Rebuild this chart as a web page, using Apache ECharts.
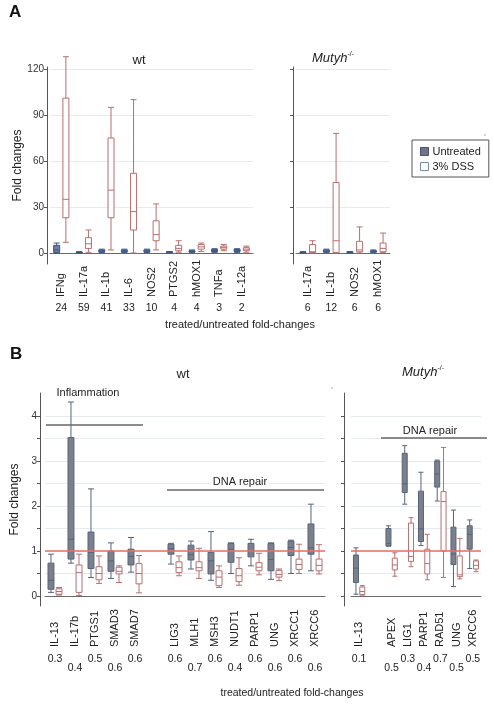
<!DOCTYPE html>
<html><head><meta charset="utf-8">
<script src="https://cdn.jsdelivr.net/npm/echarts@6/dist/echarts.min.js"></script>
<style>html,body{margin:0;padding:0;background:#fff}#c{width:494px;height:704px}</style>
</head><body><div id="c"></div>
<script>
// ---------- Panel A data ----------
const aWtCategories = ['IFNg','IL-17a','IL-1b','IL-6','NOS2','PTGS2','hMOX1','TNFa','IL-12a'];
const aWtRatios = ['24','59','41','33','10','4','4','3','2'];
const aWtUntreated = [[0,0.3,2,5,6.5],[0,0.1,0.3,0.6,0.9],[0.3,0.8,1.3,2,2.5],[0.3,0.8,1.3,2,2.5],[0.3,0.8,1.3,2,2.5],[0,0.2,0.4,0.8,1],[0.2,0.6,1,1.5,2],[0.4,1,1.5,2.3,2.8],[0.4,1,1.5,2.3,2.8]];
const aWtDSS = [[7,23,35,101,128],[0.5,3,6,10,15],[2,23,41,75,95],[0,15,27,52,100],[2,8,12,21,32],[0.5,1.5,3,5,8],[1,2.5,4,5.5,6.5],[1.5,2.5,3.5,4.5,5.5],[0.5,1.5,2.5,3.5,4.5]];
const aMuCategories = ['IL-17a','IL-1b','NOS2','hMOX1'];
const aMuRatios = ['6','12','6','6'];
const aMuUntreated = [[0,0.1,0.3,0.6,0.9],[0.3,0.8,1.3,2,2.5],[0,0.2,0.5,0.8,1],[0.2,0.6,1,1.5,2]];
const aMuDSS = [[0,0.2,0.8,5.5,8],[0,0.3,8,46,78],[0,0.8,2,7.6,17],[0.2,0.8,3,6.5,13]];
const aYTicks = [0,30,60,90,120];

// ---------- Panel B data ----------
const bWtCategories = ['IL-13','IL-17b','PTGS1','SMAD3','SMAD7','','LIG3','MLH1','MSH3','NUDT1','PARP1','UNG','XRCC1','XRCC6'];
const bWtRatios = ['0.3','0.4','0.5','0.6','0.6','','0.6','0.7','0.6','0.4','0.6','0.6','0.6','0.6'];
const bWtUntreated = [[0.08,0.15,0.35,0.73,0.93],[0.73,0.82,1.26,3.52,4.31],[0.41,0.61,0.97,1.42,2.38],[0.39,0.55,0.78,1.0,1.18],[0.53,0.69,0.88,1.04,1.3],null,
  [0.71,0.93,1.05,1.15,1.17],[0.6,0.8,0.92,1.13,1.22],[0.35,0.49,0.78,0.97,1.43],[0.5,0.75,1.04,1.17,1.18],[0.67,0.87,1.0,1.17,1.26],[0.37,0.56,0.81,1.17,1.18],[0.5,0.9,1.08,1.22,1.24],[0.56,0.93,1.07,1.6,2.04]];
const bWtDSS = [[0.02,0.04,0.1,0.16,0.19],[0.01,0.08,0.52,0.69,0.93],[0.28,0.36,0.5,0.65,0.89],[0.3,0.49,0.55,0.64,0.67],[0.07,0.27,0.5,0.72,0.9],null,
  [0.45,0.52,0.63,0.76,0.89],[0.39,0.56,0.63,0.76,1.06],[0.19,0.23,0.42,0.56,0.67],[0.24,0.32,0.45,0.61,0.85],[0.47,0.56,0.64,0.74,0.95],[0.34,0.42,0.48,0.57,0.6],[0.5,0.59,0.7,0.82,1.15],[0.49,0.56,0.68,0.82,1.14]];
const bMuCategories = ['IL-13','','APEX','LIG1','PARP1','RAD51','UNG','XRCC6'];
const bMuRatios = ['0.1','','0.5','0.3','0.4','0.7','0.5','0.5'];
const bMuUntreated = [[0.04,0.3,0.62,0.91,1.07],null,[1.11,1.11,1.17,1.5,1.56],[2.04,2.3,2.49,3.17,3.34],[1.12,1.21,1.49,2.33,2.75],[2.11,2.42,2.71,3.0,3.02],[0.21,0.7,0.93,1.53,1.91],[0.61,1.04,1.37,1.56,1.69]];
const bMuDSS = [[0.02,0.03,0.1,0.2,0.23],null,[0.44,0.58,0.69,0.84,0.96],[0.65,0.77,0.88,1.62,1.74],[0.36,0.49,0.72,1.04,1.37],[0.41,1.0,2.1,2.32,3.3],[0.38,0.43,0.47,0.89,1.28],[0.54,0.6,0.68,0.78,0.8]];
const bYTicks = [0,0.5,1,1.5,2,2.5,3,3.5,4];
const bYLabels = [0,1,2,3,4];
const bReference = 1;

// ---------- styling ----------
const FONT = "'Liberation Sans', Arial, sans-serif";
const NARROW = "'Liberation Sans Narrow', 'Liberation Sans', Arial, sans-serif";
const untreatedA = {color:'#6d7d9a', borderColor:'#3d5785', borderWidth:1};
const untreatedB = {color:'#7b8089', borderColor:'#56637e', borderWidth:1};
const dssStyle = {color:'#ffffff', borderColor:'#b86e6e', borderWidth:1};
const gridLineColor = '#e6ebf2';

const grids = [
  {left:50, right:241, top:67, bottom:440},
  {left:296, right:104, top:67, bottom:440},
  {left:45, right:169, top:393, bottom:98},
  {left:351, right:13, top:393, bottom:98}
];

function catAxis(gi, cats, margin) {
  return {type:'category', gridIndex:gi, data:cats, position:'bottom', boundaryGap:true,
    axisLine:{show:true, lineStyle:{color:'#6a6a6a', width:1}}, axisTick:{show:false}, splitLine:{show:false},
    axisLabel:{interval:0, rotate:90, align:'left', verticalAlign:'middle', margin:margin,
      fontFamily:NARROW, fontSize:11, color:'#222', padding:[0,0,6,0]}};
}
function ratioAxis(gi, ratios, margin, lower) {
  return {type:'category', gridIndex:gi, data:ratios, position:'bottom',
    axisLine:{show:false}, axisTick:{show:false}, splitLine:{show:false},
    axisLabel:{interval:0, margin:margin, fontFamily:FONT, fontSize:10.5, color:'#222',
      formatter:(v, i) => v === '' ? '' : (lower && lower(i) ? '{r2|' + v + '}' : '{r1|' + v + '}'),
      rich:{r1:{fontFamily:FONT, fontSize:10.5, color:'#222', padding:[0,0,0,0]},
            r2:{fontFamily:FONT, fontSize:10.5, color:'#222', padding:[9,0,0,0]}}}};
}
function valAxis(gi, min, max, ticks, labels, offset, name, nameGap) {
  return {type:'value', gridIndex:gi, min:min, max:max, offset:offset,
    name:name || '', nameLocation:'middle', nameGap:nameGap || 0,
    nameTextStyle:{fontFamily:FONT, fontSize:12, color:'#222'},
    axisLine:{show:true, lineStyle:{color:'#555', width:1}},
    axisTick:{show:true, length:3, customValues:ticks, lineStyle:{color:'#555'}},
    axisLabel:{show:!!labels, customValues:labels || [], fontFamily:FONT, fontSize:10, color:'#333', margin:3},
    splitLine:{show:true, lineStyle:{color:gridLineColor, width:1}}};
}
function toBox(arr) { return arr.map(d => d ? d : ['-','-','-','-','-']); }
function boxSeries(name, data, xi, yi, style, mark) {
  const s = {type:'boxplot', name:name, xAxisIndex:xi, yAxisIndex:yi, data:toBox(data),
    boxWidth:[5,6], itemStyle:style, silent:true, animation:false, emphasis:{disabled:true}};
  if (mark !== undefined) {
    s.markLine = {silent:true, symbol:'none', label:{show:false}, animation:false,
      lineStyle:{color:'#e8706a', width:1.5, type:'solid'}, data:[{yAxis:mark}]};
  }
  return s;
}
function note(x, y, text) {
  return {type:'text', x:x, y:y, z:100, style:{text:text, fontFamily:FONT, fontSize:11, fill:'#222',
    align:'center', verticalAlign:'middle', backgroundColor:'#fff', padding:[1,2,1,2]}};
}

const chart = echarts.init(document.getElementById('c'), null, {renderer:'canvas'});
const option = {
  backgroundColor:'#fff',
  animation:false,
  grid:grids,
  xAxis:[
    catAxis(0, aWtCategories, 33), ratioAxis(0, aWtRatios, 39),
    catAxis(1, aMuCategories, 33), ratioAxis(1, aMuRatios, 39),
    catAxis(2, bWtCategories, 41), ratioAxis(2, bWtRatios, 48, i => i % 2 === 1),
    catAxis(3, bMuCategories, 41), ratioAxis(3, bMuRatios, 48, i => i > 1 && i % 2 === 0)
  ],
  yAxis:[
    valAxis(0, -7.17, 121.3, aYTicks, aYTicks, 3, 'Fold changes', 19),
    valAxis(1, -7.17, 121.3, aYTicks, null, 3),
    valAxis(2, -0.222, 4.51, bYTicks, bYLabels, 5, 'Fold changes', 14),
    valAxis(3, -0.222, 4.51, bYTicks, null, 7)
  ],
  legend:{left:412, top:140, orient:'vertical', icon:'rect', itemWidth:8, itemHeight:8, itemGap:4,
    borderColor:'#555', borderWidth:1, padding:[6,8,5,8], selectedMode:false,
    textStyle:{fontFamily:FONT, fontSize:11, color:'#222', padding:[0,0,0,-1]},
    data:[{name:'Untreated', itemStyle:{color:'#6f7584', borderColor:'#4a5268', borderWidth:1}},
          {name:'3% DSS', itemStyle:{color:'#fff', borderColor:'#7b8bab', borderWidth:1}}]},
  series:[
    boxSeries('Untreated', aWtUntreated, 0, 0, untreatedA),
    boxSeries('3% DSS', aWtDSS, 0, 0, dssStyle),
    boxSeries('Untreated', aMuUntreated, 2, 1, untreatedA),
    boxSeries('3% DSS', aMuDSS, 2, 1, dssStyle),
    boxSeries('Untreated', bWtUntreated, 4, 2, untreatedB, bReference),
    boxSeries('3% DSS', bWtDSS, 4, 2, dssStyle),
    boxSeries('Untreated', bMuUntreated, 6, 3, untreatedB, bReference),
    boxSeries('3% DSS', bMuDSS, 6, 3, dssStyle)
  ],
  graphic:[
    {type:'text', left:9, top:4, style:{text:'A', fontFamily:FONT, fontSize:17, fontWeight:'bold', fill:'#111'}},
    {type:'text', left:10, top:346, style:{text:'B', fontFamily:FONT, fontSize:17, fontWeight:'bold', fill:'#111'}},
    {type:'text', x:139, y:60, style:{text:'wt', fontFamily:FONT, fontSize:13, fill:'#222', align:'center', verticalAlign:'middle'}},
    {type:'text', x:333, y:58, style:{text:'{i|Mutyh}{s|-/-}', align:'center', verticalAlign:'middle',
      rich:{i:{fontFamily:FONT, fontSize:13, fontStyle:'italic', fill:'#222'}, s:{fontFamily:FONT, fontSize:7, fill:'#222', padding:[0,0,7,0]}}}},
    {type:'text', x:183, y:374, style:{text:'wt', fontFamily:FONT, fontSize:13, fill:'#222', align:'center', verticalAlign:'middle'}},
    {type:'text', x:423, y:372, style:{text:'{i|Mutyh}{s|-/-}', align:'center', verticalAlign:'middle',
      rich:{i:{fontFamily:FONT, fontSize:13, fontStyle:'italic', fill:'#222'}, s:{fontFamily:FONT, fontSize:7, fill:'#222', padding:[0,0,7,0]}}}},
    {type:'text', x:240, y:325, style:{text:'treated/untreated fold-changes', fontFamily:FONT, fontSize:11, fill:'#222', align:'center', verticalAlign:'middle'}},
    {type:'text', x:292, y:693, style:{text:'treated/untreated fold-changes', fontFamily:FONT, fontSize:10.5, fill:'#222', align:'center', verticalAlign:'middle'}},
    note(88, 393, 'Inflammation'),
    {type:'line', z:100, shape:{x1:46, y1:425, x2:143, y2:425}, style:{stroke:'#666', lineWidth:1.5}},
    note(240, 482, 'DNA repair'),
    {type:'line', z:100, shape:{x1:167, y1:490, x2:324, y2:490}, style:{stroke:'#666', lineWidth:1.5}},
    note(430, 431, 'DNA repair'),
    {type:'line', z:100, shape:{x1:381, y1:438, x2:487, y2:438}, style:{stroke:'#666', lineWidth:1.5}},
    {type:'circle', shape:{cx:485, cy:135, r:0.7}, style:{fill:'#888'}},
    {type:'circle', shape:{cx:332, cy:388, r:0.7}, style:{fill:'#888'}}
  ]
};
chart.setOption(option);
</script>
</body></html>
